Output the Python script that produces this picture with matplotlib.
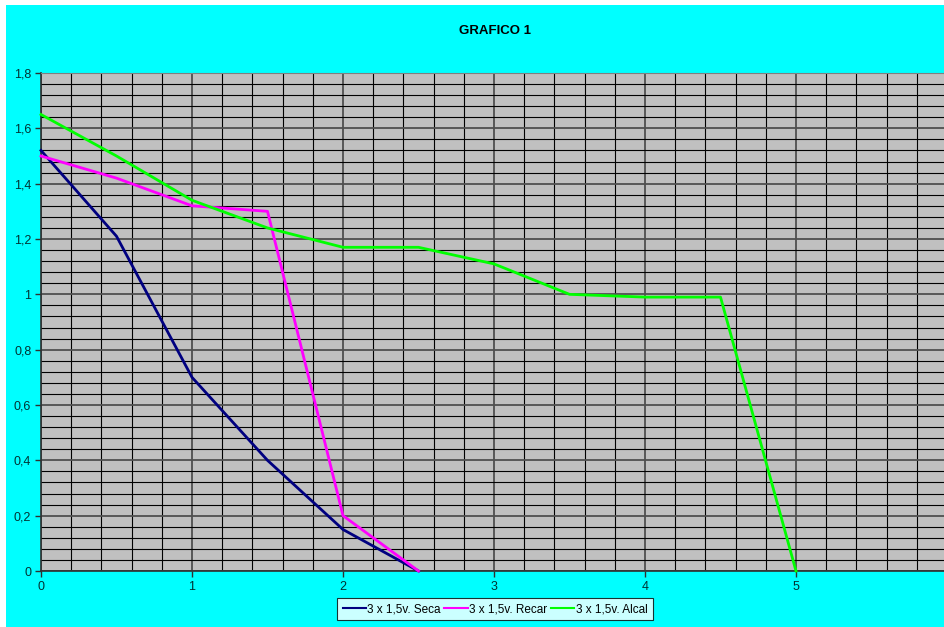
import matplotlib.pyplot as plt
from matplotlib.patches import Rectangle
from matplotlib.ticker import MultipleLocator, FuncFormatter

plt.rcParams['font.family'] = ['Liberation Sans', 'DejaVu Sans']

title = "GRAFICO 1"
labels = ["3 x 1,5v. Seca", "3 x 1,5v. Recar", "3 x 1,5v. Alcal"]
colors = ["#000080", "#ff00ff", "#00ff00"]

x_seca = [0, 0.5, 1, 1.5, 2, 2.5]
y_seca = [1.52, 1.21, 0.70, 0.40, 0.15, 0.0]

x_recar = [0, 0.5, 1, 1.5, 2, 2.5]
y_recar = [1.50, 1.42, 1.32, 1.30, 0.20, 0.0]

x_alcal = [0, 0.5, 1, 1.5, 2, 2.5, 3, 3.5, 4, 4.5, 5]
y_alcal = [1.65, 1.50, 1.34, 1.24, 1.17, 1.17, 1.11, 1.00, 0.99, 0.99, 0.0]

W, H = 944, 627
fig = plt.figure(figsize=(W / 100, H / 100), dpi=100, facecolor="white")
fig.patches.append(Rectangle((6 / W, 0), 1, 1 - 5 / H, transform=fig.transFigure,
                             facecolor="#00ffff", edgecolor="none", zorder=-10))

ax = fig.add_axes([41 / W, 1 - 571 / H, 906 / W, 498 / H])
ax.set_zorder(1)
ax.set_facecolor("#c0c0c0")

for xs, ys, c, lab in zip([x_seca, x_recar, x_alcal], [y_seca, y_recar, y_alcal], colors, labels):
    ax.plot(xs, ys, color=c, lw=2, label=lab, zorder=3, clip_on=False)

ax.set_xlim(0, 6)
ax.set_ylim(0, 1.8)
ax.xaxis.set_major_locator(MultipleLocator(1))
ax.xaxis.set_minor_locator(MultipleLocator(0.2))
ax.yaxis.set_major_locator(MultipleLocator(0.2))
ax.yaxis.set_minor_locator(MultipleLocator(0.04))
ax.yaxis.set_major_formatter(FuncFormatter(lambda v, p: ("%g" % round(v, 1)).replace(".", ",")))
ax.xaxis.set_major_formatter(FuncFormatter(lambda v, p: "%g" % v))

ax.grid(which="major", color="#505050", lw=1.3)
ax.grid(which="minor", color="#000000", lw=0.8)
ax.set_axisbelow(True)
ax.tick_params(which="minor", length=0)
ax.tick_params(which="major", length=4, width=1, color="#303030", labelsize=9,
               labelcolor="#003333", pad=3)

for s in ["left", "bottom"]:
    ax.spines[s].set_color("#303030")
    ax.spines[s].set_linewidth(1.2)
for s in ["top", "right"]:
    ax.spines[s].set_color("#808080")

fig.text(495 / W, 1 - 31 / H, title, ha="center", va="center", fontsize=9.5, fontweight="bold")

leg = fig.legend(loc="center", bbox_to_anchor=(495 / W, 1 - 609 / H), ncol=3, fontsize=8.5,
                 frameon=True, fancybox=False, handlelength=2.0, handletextpad=0.1,
                 columnspacing=0.3, borderpad=0.45, borderaxespad=0)
leg.get_frame().set_edgecolor("black")
leg.get_frame().set_facecolor("white")
leg.get_frame().set_linewidth(0.8)
for line in leg.get_lines():
    line.set_linewidth(1.5)

fig.savefig("out.png", dpi=100, facecolor=fig.get_facecolor())
